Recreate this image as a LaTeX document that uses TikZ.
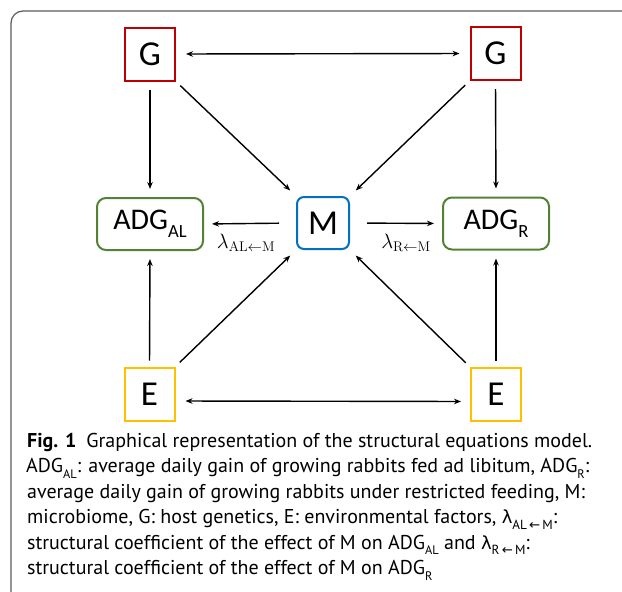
\documentclass[tikz,border=0pt]{standalone}
\usepackage{fontspec}
\usetikzlibrary{arrows.meta}
\newfontfamily\boxfont{Carlito}
\newfontfamily\capfont{PT Sans}
\newfontfamily\capgrk{DejaVu Sans}
\definecolor{gred}{RGB}{192,0,0}
\definecolor{mblue}{RGB}{0,112,192}
\definecolor{agreen}{RGB}{84,130,53}
\definecolor{eyellow}{RGB}{255,192,0}
\definecolor{framegray}{RGB}{90,90,90}
% lowered small subscript for sans text
\newcommand\lowsub[2][0.62]{\raisebox{-0.28em}{\scalebox{#1}{#2}}}
\newcommand\lam[1]{{\capgrk\fontsize{18}{18}\selectfont λ}\lowsub[0.66]{#1}}
\newcommand\capsize{\capfont\fontsize{20}{20}\selectfont}
% caption lines share one horizontal squeeze, set by the width of the first line
\newlength\capw
\newcommand\capfirst{\textbf{Fig. 1}\hspace{0.5em}Graphical representation of the structural equations model.}
\def\capscale{1}
\makeatletter
\newcommand\setcapscale{%
  \settowidth\capw{\capsize\capfirst}%
  \edef\capscale{\strip@pt\dimexpr 565pt*65536/\number\capw\relax}}
\makeatother
\newcommand\capfit[1]{\scalebox{\capscale}[1]{#1}}
\tikzset{
  sqbox/.style={draw, line width=2pt, minimum width=50pt, minimum height=53pt,
    inner sep=0pt, font=\boxfont\fontsize{35}{35}\selectfont},
  gbox/.style={sqbox, draw=gred},
  ebox/.style={sqbox, draw=eyellow},
  mbox/.style={sqbox, draw=mblue, rounded corners=7pt, minimum width=52pt, minimum height=52pt},
  adgbox/.style={draw=agreen, line width=2pt, rounded corners=9pt, minimum width=106pt,
    minimum height=52pt, inner sep=0pt, font=\boxfont\fontsize{30}{30}\selectfont},
  link/.style={line width=1.4pt, -{Stealth[length=7pt,width=5.5pt]}},
  twoway/.style={line width=1.4pt, {Stealth[length=7pt,width=5.5pt]}-{Stealth[length=7pt,width=5.5pt]}},
  coef/.style={font=\fontsize{20}{20}\selectfont},
  capline/.style={anchor=base west, inner sep=0pt, font=\capsize}
}
\begin{document}
\setcapscale
\begin{tikzpicture}[x=1pt, y=-1pt]
\useasboundingbox (0,0) rectangle (622,592);
% frame of the figure
\draw[framegray, line width=1.2pt, rounded corners=12pt] (623,11) -- (11,11) -- (11,593);

% nodes
\node[gbox] (G1) at (150,54) {G};
\node[gbox] (G2) at (495.5,53.5) {G};
\node[mbox] (M) at (323,223) {M};
\node[adgbox] (AL) at (150,224) {ADG\lowsub{AL}};
\node[adgbox] (R) at (496,223.5) {ADG\lowsub{R}};
\node[ebox] (E1) at (149.5,394) {E};
\node[ebox] (E2) at (496,394.5) {E};

% connectors
\draw[twoway, shorten <=10pt, shorten >=10pt] (G1.east) -- (G2.west);
\draw[link, shorten <=8pt, shorten >=8pt] (G1.south) -- (AL.north);
\draw[link, shorten <=8pt, shorten >=8pt] (G2.south) -- (R.north);
\draw[link, shorten <=6pt, shorten >=8pt] (G1.south east) -- (M.north west);
\draw[link, shorten <=6pt, shorten >=8pt] (G2.south west) -- (M.north east);
\draw[link, shorten <=17pt, shorten >=8pt] (M.west) -- (AL.east);
\draw[link, shorten <=17pt, shorten >=8pt] (M.east) -- (R.west);
\draw[link, shorten <=6pt, shorten >=8pt] (E1.north) -- (AL.south);
\draw[link, shorten <=6pt, shorten >=8pt] (E2.north) -- (R.south);
\draw[link, shorten <=6pt, shorten >=8pt] (E1.north east) -- (M.south west);
\draw[link, shorten <=6pt, shorten >=8pt] (E2.north west) -- (M.south east);
\draw[twoway, shorten <=10pt, shorten >=9pt] ([yshift=-7pt]E1.east) -- ([yshift=-7pt]E2.west);

% path coefficients
\node[coef] (lAL) at (246,243) {$\lambda_{\mathrm{AL}\leftarrow\mathrm{M}}$};
\node[coef] (lR) at (406,243) {$\lambda_{\mathrm{R}\leftarrow\mathrm{M}}$};

% caption
\node[capline] (c1) at (27,447) {\capfit{\capfirst}};
\node[capline] (c2) at (26,472.5) {\capfit{ADG\lowsub{AL}: average daily gain of growing rabbits fed ad libitum, ADG\lowsub{R}:}};
\node[capline] (c3) at (27,498) {\capfit{average daily gain of growing rabbits under restricted feeding, M:}};
\node[capline] (c4) at (27,523.5) {\capfit{microbiome, G: host genetics, E: environmental factors, \lam{AL\,{\capgrk ←}\,M}:}};
\node[capline] (c5) at (27,549) {\capfit{structural coefficient of the effect of M on ADG\lowsub{AL} and \lam{R\,{\capgrk ←}\,M}:}};
\node[capline] (c6) at (27,574.5) {\capfit{structural coefficient of the effect of M on ADG\lowsub{R}}};
\end{tikzpicture}
\end{document}
